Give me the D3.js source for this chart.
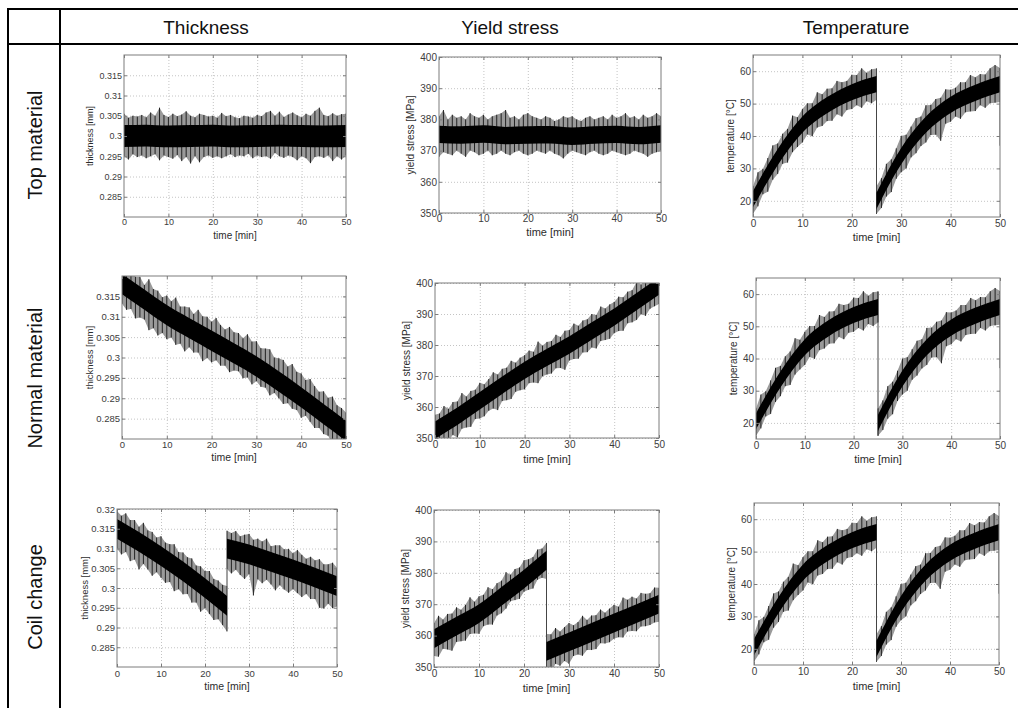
<!DOCTYPE html>
<html>
<head>
<meta charset="utf-8">
<script src="https://cdn.jsdelivr.net/npm/d3@7"></script>
<style>
  body { margin: 0; background: #fff; }
  svg { display: block; }
  text { font-family: "Liberation Sans", Arial, sans-serif; }
</style>
</head>
<body>
<svg id="chart" width="1018" height="708"></svg>
<script>
// ---------------- data ----------------
const COLUMN_TITLES = ['Thickness', 'Yield stress', 'Temperature'];
const ROW_TITLES = ['Top material', 'Normal material', 'Coil change'];
const Y_LABELS = ['thickness [mm]', 'yield stress [MPa]', 'temperature [\u00B0C]'];
const X_LABEL = 'time [min]';

const X_TICKS = [0, 10, 20, 30, 40, 50];
const Y_TICKS_THICK = [0.285, 0.29, 0.295, 0.3, 0.305, 0.31, 0.315];
const Y_TICKS_THICK_COIL = [0.285, 0.29, 0.295, 0.3, 0.305, 0.31, 0.315, 0.32];
const Y_TICKS_YIELD = [350, 360, 370, 380, 390, 400];
const Y_TICKS_TEMP = [20, 30, 40, 50, 60];

// sample times [min]: spikes every minute, band centre every 5 minutes
const TIME_FULL = [0,1,2,3,4,5,6,7,8,9,10,11,12,13,14,15,16,17,18,19,20,21,22,23,24,25,26,27,28,29,30,31,32,33,34,35,36,37,38,39,40,41,42,43,44,45,46,47,48,49,50];
const TIME_A = [0,1,2,3,4,5,6,7,8,9,10,11,12,13,14,15,16,17,18,19,20,21,22,23,24,25];
const TIME_B = [25,26,27,28,29,30,31,32,33,34,35,36,37,38,39,40,41,42,43,44,45,46,47,48,49,50];
const MID_TIME_FULL = [0,5,10,15,20,25,30,35,40,45,50];
const MID_TIME_A = [0,5,10,15,20,25];
const MID_TIME_B = [25,30,35,40,45,50];

// top material: thickness
const topThickHi = [0.3055,0.3045,0.3050,0.3048,0.3052,0.3046,0.3058,0.3050,0.3070,0.3052,
  0.3047,0.3055,0.3049,0.3053,0.3061,0.3050,0.3046,0.3055,0.3052,0.3048,
  0.3050,0.3045,0.3057,0.3049,0.3052,0.3046,0.3044,0.3050,0.3048,0.3045,
  0.3052,0.3049,0.3058,0.3062,0.3050,0.3060,0.3047,0.3053,0.3058,0.3051,
  0.3046,0.3055,0.3050,0.3062,0.3070,0.3052,0.3049,0.3056,0.3050,0.3054,0.3055];
const topThickLo = [0.2950,0.2942,0.2955,0.2948,0.2952,0.2945,0.2950,0.2955,0.2940,0.2952,
  0.2948,0.2944,0.2953,0.2938,0.2948,0.2932,0.2950,0.2935,0.2948,0.2952,
  0.2946,0.2950,0.2945,0.2950,0.2955,0.2948,0.2952,0.2950,0.2956,0.2945,
  0.2952,0.2948,0.2950,0.2944,0.2958,0.2950,0.2946,0.2952,0.2948,0.2940,
  0.2950,0.2945,0.2933,0.2948,0.2950,0.2946,0.2952,0.2938,0.2950,0.2942,0.2952];
const topThickMid = [0.3000,0.3001,0.2999,0.3000,0.3001,0.2999,0.3000,0.3001,0.3000,0.2999,0.3000];

// top material: yield stress
const topYieldHi = [381,383,380,381.5,380.5,381,380,382,381,380.5,
  381.5,380,381,381.5,382,383,380.5,381,380,381.5,
  382,381,380.5,380,381,380.5,379.5,380,381,380.5,
  381,380,379.5,380.5,381,380,380.5,381,380,381.5,
  380.5,381,382,380.5,381,380,381.5,380.5,381,382,381];
const topYieldLo = [368,369.5,369,368.5,370,369,368,370,369.5,368.5,
  369,370,368.5,369,370,369,368.5,369.5,370,369,
  368.5,369,370,369.5,369,370,369,368.5,367.5,369,
  370,369.5,369,368.5,369.5,370,369,368.5,369,370,
  369.5,369,368.5,369,370,369.5,369,368,369,369.5,370];
const topYieldMid = [375.2,375.0,375.3,374.8,375.0,375.1,374.6,375.0,375.2,374.8,375.3];

// normal material: thickness
const normThickHi = [0.3225,0.3212,0.3219,0.3198,0.3198,0.3178,0.3192,0.3168,0.3164,0.3148,
  0.3152,0.3138,0.3147,0.3125,0.3125,0.3123,0.3107,0.3117,0.3101,0.3100,
  0.3088,0.3097,0.3080,0.3069,0.3075,0.3062,0.3060,0.3047,0.3057,0.3039,
  0.3040,0.3023,0.3022,0.3020,0.3000,0.2998,0.2994,0.2978,0.2984,0.2965,
  0.2961,0.2945,0.2947,0.2930,0.2916,0.2917,0.2901,0.2904,0.2883,0.2876,0.2865];
const normThickLo = [0.3132,0.3117,0.3119,0.3096,0.3098,0.3093,0.3067,0.3072,0.3054,0.3060,
  0.3045,0.3049,0.3031,0.3034,0.3015,0.3025,0.3012,0.3012,0.2991,0.2999,
  0.2988,0.2993,0.2980,0.2980,0.2964,0.2968,0.2966,0.2949,0.2951,0.2934,
  0.2942,0.2928,0.2926,0.2907,0.2913,0.2900,0.2886,0.2888,0.2874,0.2871,
  0.2852,0.2857,0.2842,0.2827,0.2827,0.2812,0.2808,0.2788,0.2791,0.2777,0.2770];
const normThickMid = [0.3180,0.3142,0.3104,0.3072,0.3041,0.3010,0.2978,0.2941,0.2902,0.2861,0.2820];

// normal material: yield stress
const normYieldHi = [357.5,357.9,360.3,359.4,361.6,361.8,364.5,363.4,365.2,365.6,
  367.8,367.3,369,371.2,370.5,372.3,372.7,374.9,374.3,375.9,
  376.7,378.2,377.8,381.1,379.8,381,381.3,383.3,382.6,384.6,
  384.8,386.9,386.2,387.9,388.3,390,389.7,392.4,391.8,393.1,
  393.9,395.6,395.4,397.2,397.7,400.3,399.5,401.1,401.8,403.4,403.6];
const normYieldLo = [347,347.2,349.5,349.3,351,350.2,353,353.4,353.6,356.1,
  356.3,357,358.8,359.5,359,361.9,362.2,362.6,364.9,365.4,
  365.7,367.7,367.9,367.7,369.9,370.5,370.8,372.5,372.6,372,
  375,375.5,375.6,377.6,377.7,379.2,378.9,381.3,381.6,382,
  383.8,384.5,384.6,387,387.3,388.1,389.9,389.4,391.7,392.5,393.2];
const normYieldMid = [352.5,357,362,367,371.8,376,380,384.5,389,394,399];

// coil change: thickness, before (A) and after (B) the change at 25 min
const coilThickHiA = [0.3195,0.3183,0.3189,0.3172,0.3172,0.3155,0.3165,0.3146,0.3142,0.3128,
  0.3131,0.3115,0.3111,0.3111,0.3091,0.3090,0.3078,0.3075,0.3057,0.3055,
  0.3043,0.3043,0.3023,0.3019,0.3008,0.3005];
const coilThickLoA = [0.3100,0.3085,0.3091,0.3068,0.3072,0.3047,0.3061,0.3047,0.3031,0.3040,
  0.3026,0.3013,0.3015,0.2992,0.2997,0.2984,0.2985,0.2963,0.2963,0.2940,
  0.2949,0.2934,0.2919,0.2921,0.2906,0.2890];
const coilThickMidA = [0.3150,0.3117,0.3081,0.3042,0.3000,0.2955];
const coilThickHiB = [0.3145,0.3139,0.3144,0.3131,0.3135,0.3137,0.3122,0.3125,0.3118,0.3125,
  0.3106,0.3108,0.3108,0.3098,0.3099,0.3088,0.3096,0.3084,0.3074,0.3079,
  0.3070,0.3073,0.3060,0.3060,0.3064,0.3051];
const coilThickLoB = [0.3048,0.3037,0.3046,0.3033,0.3023,0.3035,0.2981,0.3022,0.3012,0.3021,
  0.3009,0.2994,0.3007,0.2996,0.2988,0.2997,0.2987,0.2977,0.2985,0.2972,
  0.2972,0.2950,0.2948,0.2960,0.2949,0.2953];
const coilThickMidB = [0.3100,0.3085,0.3066,0.3047,0.3026,0.3005];

// coil change: yield stress
const coilYieldHiA = [364,366.3,365.1,366.9,367,369,368.2,369.8,372.2,370.8,
  372.5,373,375.4,374.8,376.7,377.5,380.2,379.4,381.2,381.7,
  384,384.3,385,387.4,387.7,389.5];
const coilYieldLoA = [353.5,353.3,355.8,355.6,355.2,358,358.2,358.4,360.5,360.7,
  360.6,363,363.5,363.5,366.4,367.1,368.6,370.9,371.3,371.7,
  374,374.6,375,377.8,378.4,378];
const coilYieldMidA = [359,363,367,372.5,378,384];
const coilYieldHiB = [360.5,360.4,362.4,361.3,362.7,364,363.3,364.3,366.3,365,
  366.4,366.5,368.3,367.3,368.6,369.8,369.2,372.1,371.4,372.4,
  371.8,373.6,373.3,373.5,375.3,375.2];
const coilYieldLoB = [349,348.1,351,350.4,351.9,351,353.5,354,353.6,355.4,
  355.4,355.7,357.6,357.5,357.9,359,359.5,359.4,361.3,361.5,
  361.4,362.9,363,363.4,364.2,364.4];
const coilYieldMidB = [355,358,361,364,367,370];

// temperature (same trace in all three rows)
const tempHiA = [24.5,28.8,29.8,33.2,37.1,37.7,40.7,42.2,46.3,45.8,
  48.3,50.1,50.1,53.5,52.9,54.6,54.7,57,56.6,57,
  58.9,58.8,60.9,59.5,60.6,60.8];
const tempLoA = [16,18.3,22,22.8,26.5,28.3,31.4,31.8,35,36.6,
  38,40.5,39.9,42.6,43.1,44.6,44.7,46.7,46,48,
  48.3,49.5,48.7,50.7,50.1,51.2];
const tempMidA = [20.5,33.5,43.5,49.5,53.5,56];
const tempHiB = [24.5,27,31.4,32.8,36.2,40,40.4,42.9,45.5,46,
  49.5,49.6,51.4,51.8,54.4,54.3,54.9,56.6,56.6,58.8,
  58.1,59.1,59,60.9,61.9,61];
const tempLoB = [16,17.8,21.3,22.7,26.8,28.8,30,33.4,34.7,36.9,
  38,40.3,40.4,38.5,43.8,44.4,46,45.3,47.3,47.6,
  47.7,49.5,48.7,50.1,50.3,50.5];
const tempMidB = [20,33.8,43.5,49.6,53.3,56];
const TEMP_END_TIME = [50];
const TEMP_END_VALUE = [37];

// half width of the dense core of each noisy trace
const CORE_HALF = { topThick: 0.0027, topYield: 2.8, normThick: 0.0025, normYield: 2.8,
                    coilThick: 0.0025, coilYield: 3, temp: 2.5 };

// ---------------- series assembly ----------------
const seg = (t, hi, lo, mt, mid) => ({ t, hi, lo, mt, mid });
const SERIES = {
  topThick:  { segs: [seg(TIME_FULL, topThickHi, topThickLo, MID_TIME_FULL, topThickMid)] },
  topYield:  { segs: [seg(TIME_FULL, topYieldHi, topYieldLo, MID_TIME_FULL, topYieldMid)] },
  normThick: { segs: [seg(TIME_FULL, normThickHi, normThickLo, MID_TIME_FULL, normThickMid)] },
  normYield: { segs: [seg(TIME_FULL, normYieldHi, normYieldLo, MID_TIME_FULL, normYieldMid)] },
  coilThick: { segs: [seg(TIME_A, coilThickHiA, coilThickLoA, MID_TIME_A, coilThickMidA),
                      seg(TIME_B, coilThickHiB, coilThickLoB, MID_TIME_B, coilThickMidB)] },
  coilYield: { segs: [seg(TIME_A, coilYieldHiA, coilYieldLoA, MID_TIME_A, coilYieldMidA),
                      seg(TIME_B, coilYieldHiB, coilYieldLoB, MID_TIME_B, coilYieldMidB)] },
  temp:      { segs: [seg(TIME_A, tempHiA, tempLoA, MID_TIME_A, tempMidA),
                      seg(TIME_B, tempHiB, tempLoB, MID_TIME_B, tempMidB)],
               tail: { t: TEMP_END_TIME, v: TEMP_END_VALUE } }
};

// ---------------- layout ----------------
const svg = d3.select('#chart');
const defs = svg.append('defs');

// the source is a soft scan: blur the traces a little
defs.append('filter').attr('id', 'soft').attr('x', '-5%').attr('y', '-5%').attr('width', '110%').attr('height', '110%')
  .append('feGaussianBlur').attr('stdDeviation', 0.45);

const COL_X = [206, 510, 856];
const ROW_Y = [145, 378, 597];

const PANELS = [
  { key: 'topThick',  col: 0, ticks: Y_TICKS_THICK,      L: 124, R: 346,  T: 55,  B: 217, fs: 9,   pad: 2,   xlab: 18, ylab: 34 },
  { key: 'topYield',  col: 1, ticks: Y_TICKS_YIELD,      L: 439, R: 661,  T: 57,  B: 213, fs: 10,  pad: 2,   xlab: 19, ylab: 29 },
  { key: 'temp',      col: 2, ticks: Y_TICKS_TEMP,       L: 753, R: 1000, T: 55,  B: 217, fs: 10,  pad: 2.5, xlab: 20, ylab: 23 },
  { key: 'normThick', col: 0, ticks: Y_TICKS_THICK,      L: 122, R: 346,  T: 276, B: 439, fs: 9.5, pad: 2,   xlab: 18, ylab: 33 },
  { key: 'normYield', col: 1, ticks: Y_TICKS_YIELD,      L: 435, R: 659,  T: 283, B: 438, fs: 10,  pad: 3,   xlab: 21, ylab: 29 },
  { key: 'temp',      col: 2, ticks: Y_TICKS_TEMP,       L: 756, R: 1000, T: 278, B: 439, fs: 10,  pad: 2.5, xlab: 20, ylab: 23 },
  { key: 'coilThick', col: 0, ticks: Y_TICKS_THICK_COIL, L: 117, R: 337,  T: 509, B: 667, fs: 9.5, pad: 3.5, xlab: 19, ylab: 33 },
  { key: 'coilYield', col: 1, ticks: Y_TICKS_YIELD,      L: 434, R: 659,  T: 510, B: 667, fs: 10,  pad: 3,   xlab: 21, ylab: 29 },
  { key: 'temp',      col: 2, ticks: Y_TICKS_TEMP,       L: 754, R: 999,  T: 503, B: 665, fs: 10,  pad: 3,   xlab: 21, ylab: 23 }
];
const Y_DOMAINS = [[0.28, 0.32], [350, 400], [15, 65]];
const Y_FORMATS = [d => String(+d.toFixed(3)), d3.format('d'), d3.format('d')];

//------------------------------TABLE FRAME-------------------------------------
const frame = svg.append('g').attr('stroke', '#000').attr('stroke-width', 2);
[[7, 9, 1018, 9], [7, 44, 1018, 44], [8, 8, 8, 708], [60, 8, 60, 708]].forEach(l => {
  frame.append('line').attr('x1', l[0]).attr('y1', l[1]).attr('x2', l[2]).attr('y2', l[3]);
});

svg.selectAll('.colTitle').data(COLUMN_TITLES).enter().append('text')
  .attr('class', 'colTitle')
  .attr('x', (d, i) => COL_X[i]).attr('y', 27)
  .attr('text-anchor', 'middle').attr('dominant-baseline', 'central')
  .style('font-size', '19px').attr('fill', '#111')
  .text(d => d);

svg.selectAll('.rowTitle').data(ROW_TITLES).enter().append('text')
  .attr('class', 'rowTitle')
  .attr('transform', (d, i) => `translate(35,${ROW_Y[i]}) rotate(-90)`)
  .attr('text-anchor', 'middle').attr('dominant-baseline', 'central')
  .style('font-size', '20px').attr('fill', '#111')
  .text(d => d);

//------------------------------PANELS-------------------------------------
PANELS.forEach((p, i) => {
  const s = SERIES[p.key];
  const x = d3.scaleLinear().domain([0, 50]).range([p.L, p.R]);
  const y = d3.scaleLinear().domain(Y_DOMAINS[p.col]).range([p.B, p.T]);
  const g = svg.append('g');

  // dotted grid
  g.append('g').attr('transform', `translate(0,${p.B})`)
    .call(d3.axisBottom(x).tickValues(X_TICKS.slice(1, -1)).tickSize(-(p.B - p.T)).tickFormat(''))
    .call(a => a.select('.domain').remove())
    .selectAll('line').attr('stroke', '#c4c4c4').attr('stroke-dasharray', '1,2');
  g.append('g').attr('transform', `translate(${p.L},0)`)
    .call(d3.axisLeft(y).tickValues(p.ticks).tickSize(-(p.R - p.L)).tickFormat(''))
    .call(a => a.select('.domain').remove())
    .selectAll('line').attr('stroke', '#c4c4c4').attr('stroke-dasharray', '1,2');

  // noisy trace, clipped to the axes box
  const clipId = 'clip' + i;
  defs.append('clipPath').attr('id', clipId).append('rect')
    .attr('x', p.L).attr('y', p.T).attr('width', p.R - p.L).attr('height', p.B - p.T);
  const plot = g.append('g').attr('clip-path', `url(#${clipId})`)
    .append('g').attr('filter', 'url(#soft)');

  const envArea = d3.area().x(d => x(d.t)).y0(d => y(d.lo)).y1(d => y(d.hi));
  s.segs.forEach(sg => {
    plot.append('path')
      .datum(sg.t.map((t, k) => ({ t, hi: sg.hi[k], lo: sg.lo[k] })))
      .attr('d', envArea).attr('fill', '#9a9a9a');
  });

  // spikes: one min-max stroke per sample
  const spikes = [];
  s.segs.forEach(sg => sg.t.forEach((t, k) => spikes.push({ t, hi: sg.hi[k], lo: sg.lo[k] })));
  plot.append('g').selectAll('line').data(spikes).enter().append('line')
    .attr('x1', d => x(d.t)).attr('x2', d => x(d.t))
    .attr('y1', d => y(d.hi)).attr('y2', d => y(d.lo))
    .attr('stroke', '#222').attr('stroke-width', 1);

  // the trace jumps between segments and, for temperature, drops at the very end
  const jumps = [];
  for (let k = 1; k < s.segs.length; k++) {
    const a = s.segs[k - 1], b = s.segs[k];
    jumps.push([[a.t[a.t.length - 1], a.hi[a.hi.length - 1]], [b.t[0], b.lo[0]]]);
  }
  if (s.tail) {
    const last = s.segs[s.segs.length - 1];
    jumps.push([[last.t[last.t.length - 1], last.lo[last.lo.length - 1]], [s.tail.t[0], s.tail.v[0]]]);
  }
  plot.selectAll('.jump').data(jumps).enter().append('path')
    .attr('class', 'jump')
    .attr('d', d3.line().x(d => x(d[0])).y(d => y(d[1])))
    .attr('fill', 'none').attr('stroke', '#444').attr('stroke-width', 1);

  // dense black core
  const half = CORE_HALF[p.key];
  const core = d3.area().curve(d3.curveMonotoneX)
    .x(d => x(d.t)).y0(d => y(d.m - half)).y1(d => y(d.m + half));
  s.segs.forEach(sg => {
    plot.append('path')
      .datum(sg.mt.map((t, k) => ({ t, m: sg.mid[k] })))
      .attr('d', core).attr('fill', '#000');
  });

  // box and inward ticks on all four sides
  g.append('rect').attr('x', p.L).attr('y', p.T).attr('width', p.R - p.L).attr('height', p.B - p.T)
    .attr('fill', 'none').attr('stroke', '#7c7c7c').attr('stroke-width', 1);

  const styleAxis = a => {
    a.select('.domain').remove();
    a.selectAll('line').attr('stroke', '#7c7c7c');
    a.selectAll('text').attr('fill', '#3c3c3c').style('font-size', p.fs + 'px')
      .style('font-family', '"Liberation Sans", Arial, sans-serif');
  };
  g.append('g').attr('transform', `translate(0,${p.B})`)
    .call(d3.axisBottom(x).tickValues(X_TICKS).tickSize(-3).tickPadding(p.pad)).call(styleAxis);
  g.append('g').attr('transform', `translate(0,${p.T})`)
    .call(d3.axisTop(x).tickValues(X_TICKS).tickSize(-3).tickFormat('')).call(styleAxis);
  g.append('g').attr('transform', `translate(${p.L},0)`)
    .call(d3.axisLeft(y).tickValues(p.ticks).tickSize(-3).tickPadding(2).tickFormat(Y_FORMATS[p.col])).call(styleAxis);
  g.append('g').attr('transform', `translate(${p.R},0)`)
    .call(d3.axisRight(y).tickValues(p.ticks).tickSize(-3).tickFormat('')).call(styleAxis);

  // axis titles
  g.append('text')
    .attr('x', (p.L + p.R) / 2).attr('y', p.B + p.xlab)
    .attr('text-anchor', 'middle').attr('dominant-baseline', 'central')
    .style('font-size', (p.fs + 1) + 'px').attr('fill', '#2c2c2c')
    .text(X_LABEL);
  g.append('text')
    .attr('transform', `translate(${p.L - p.ylab},${(p.T + p.B) / 2}) rotate(-90)`)
    .attr('text-anchor', 'middle').attr('dominant-baseline', 'central')
    .style('font-size', p.fs + 'px').attr('fill', '#2c2c2c')
    .text(Y_LABELS[p.col]);
});
</script>
</body>
</html>
